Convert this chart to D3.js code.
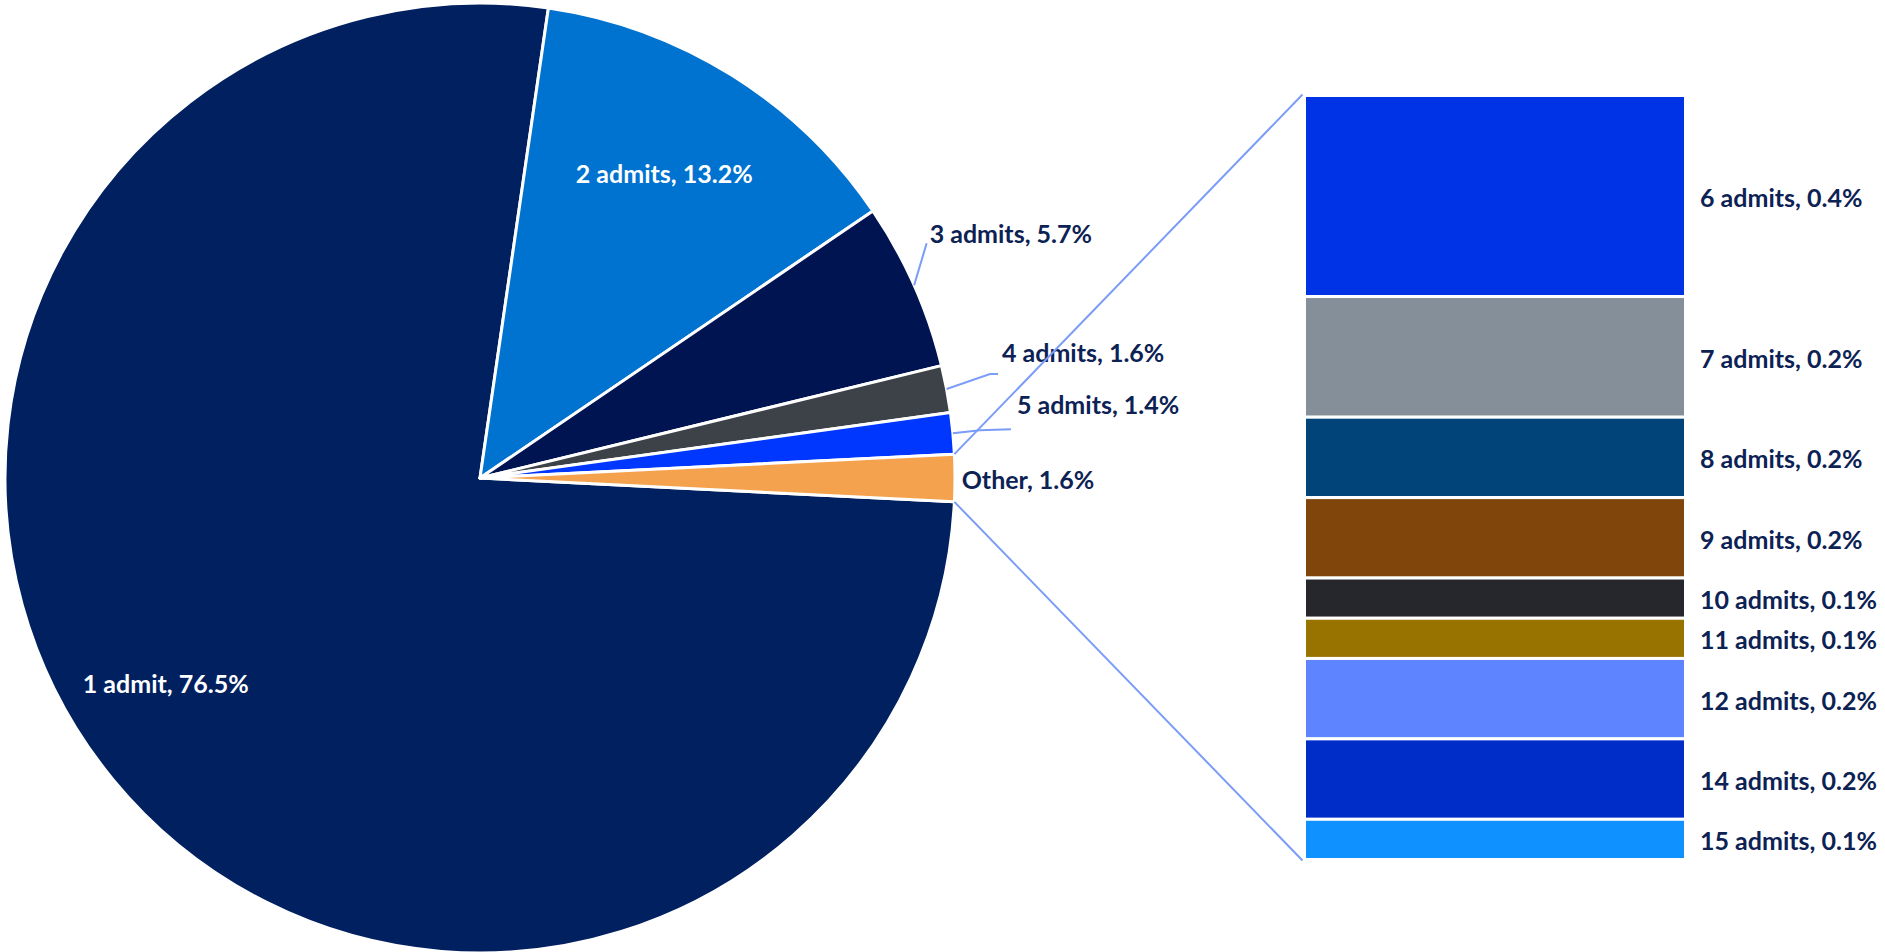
<!DOCTYPE html>
<html>
<head>
<meta charset="utf-8">
<script src="https://cdn.jsdelivr.net/npm/d3@7"></script>
<style>
  html, body { margin: 0; padding: 0; background: #ffffff; }
  svg { display: block; }
  text { font-family: Lato, "Open Sans", sans-serif; font-weight: 700; }
</style>
</head>
<body>
<svg id="chart" width="1885" height="952"></svg>
<script>
// ---- data ----
const pieLabels = ["1 admit", "2 admits", "3 admits", "4 admits", "5 admits", "Other"];
const pieValues = [76.5, 13.2, 5.7, 1.6, 1.4, 1.6];
const pieColors = ["#00205F", "#0072CF", "#001452", "#3D4249", "#0037FF", "#F5A24E"];

const subLabels = ["6 admits", "7 admits", "8 admits", "9 admits", "10 admits", "11 admits", "12 admits", "14 admits", "15 admits"];
const subPercents = [0.4, 0.2, 0.2, 0.2, 0.1, 0.1, 0.2, 0.2, 0.1];
const subSizes = [5, 3, 2, 2, 1, 1, 2, 2, 1]; // relative bar heights
const subColors = ["#0033E6", "#848F99", "#00447A", "#80450A", "#25272C", "#997300", "#5E84FF", "#002DC8", "#0F91FF"];

// ---- layout ----
const svg = d3.select("#chart");
const cx = 480, cy = 478, R = 475;
const textDark = "#0D2254";
const lineBlue = "#7B9CF7";
const fontSize = 25;
const deg = Math.PI / 180;

// Excel-style pie of pie: "Other" slice centred at 3 o'clock
const total = d3.sum(pieValues);
const beforeOther = d3.sum(pieValues.slice(0, -1));
const otherMid = (beforeOther + pieValues[pieValues.length - 1] / 2) / total * 2 * Math.PI;
const a0 = Math.PI / 2 - otherMid;

const pie = d3.pie().sort(null).value(d => d.v).startAngle(a0).endAngle(a0 + 2 * Math.PI);
const pieData = pie(pieLabels.map((l, i) => ({ label: l, v: pieValues[i], color: pieColors[i] })));
const arc = d3.arc().innerRadius(0).outerRadius(R);

const g = svg.append("g").attr("transform", `translate(${cx},${cy})`);
g.selectAll("path.slice").data(pieData).join("path")
  .attr("class", "slice")
  .attr("d", arc)
  .attr("fill", d => d.data.color)
  .attr("stroke", "#ffffff")
  .attr("stroke-width", 3)
  .attr("stroke-linejoin", "round");

const polar = (ang, r) => [r * Math.sin(ang), -r * Math.cos(ang)];

// inside labels (angle shift in degrees, radius fraction)
const insidePlace = { "1 admit": [6.3, 0.79], "2 admits": [-0.9, 0.75] };
// outside labels: offset of label's left/centre from slice edge midpoint; leader elbow relative to label anchor
const outsidePlace = {
  "3 admits": { off: [15.5, -52], leader: [[-3, 10]] },
  "4 admits": { off: [55.4, -37], leader: [[-12, 22], [-4, 22]] },
  "5 admits": { off: [64, -29], leader: [[-37, 26], [-6, 25]] },
  "Other":    { off: [6.7, 1], leader: null }
};

pieData.forEach(d => {
  const mid = (d.startAngle + d.endAngle) / 2;
  const txt = `${d.data.label}, ${d3.format(".1f")(d.data.v)}%`;
  if (insidePlace[d.data.label]) {
    const [shift, rf] = insidePlace[d.data.label];
    const [x, y] = polar(mid + shift * deg, R * rf);
    g.append("text").attr("x", x).attr("y", y)
      .attr("text-anchor", "middle").attr("dominant-baseline", "central")
      .attr("fill", "#ffffff").attr("font-size", fontSize).text(txt);
  } else {
    const p = outsidePlace[d.data.label];
    const edge = polar(mid, R);
    const lx = edge[0] + p.off[0], ly = edge[1] + p.off[1];
    if (p.leader) {
      const pts = [edge].concat(p.leader.map(q => [lx + q[0], ly + q[1]]));
      g.append("path").attr("d", d3.line()(pts))
        .attr("fill", "none").attr("stroke", lineBlue).attr("stroke-width", 2);
    }
    g.append("text").attr("x", lx).attr("y", ly)
      .attr("text-anchor", "start").attr("dominant-baseline", "central")
      .attr("fill", textDark).attr("font-size", fontSize).text(txt);
  }
});

// ---- secondary stacked bar ----
const barX0 = 1304.5, barX1 = 1685.5;
const cum = [0];
subSizes.forEach(v => cum.push(cum[cum.length - 1] + v));
const y = d3.scaleLinear().domain([0, d3.sum(subSizes)]).range([95.5, 859.5]);

const bars = svg.append("g");
bars.selectAll("rect").data(subSizes).join("rect")
  .attr("x", barX0)
  .attr("width", barX1 - barX0)
  .attr("y", (d, i) => y(cum[i]))
  .attr("height", (d, i) => y(cum[i + 1]) - y(cum[i]))
  .attr("fill", (d, i) => subColors[i])
  .attr("stroke", "#ffffff")
  .attr("stroke-width", 3);

bars.selectAll("text").data(subSizes).join("text")
  .attr("x", 1700)
  .attr("y", (d, i) => (y(cum[i]) + y(cum[i + 1])) / 2 + 1)
  .attr("dominant-baseline", "central")
  .attr("fill", textDark)
  .attr("font-size", fontSize)
  .text((d, i) => `${subLabels[i]}, ${d3.format(".1f")(subPercents[i])}%`);

// ---- connector lines from "Other" slice to the bar ----
const other = pieData[pieData.length - 1];
const pTop = polar(other.startAngle, R), pBot = polar(other.endAngle, R);
svg.append("line")
  .attr("x1", cx + pTop[0]).attr("y1", cy + pTop[1])
  .attr("x2", barX0 - 2).attr("y2", y(0) - 1)
  .attr("stroke", lineBlue).attr("stroke-width", 2);
svg.append("line")
  .attr("x1", cx + pBot[0]).attr("y1", cy + pBot[1])
  .attr("x2", barX0 - 2).attr("y2", y(d3.sum(subSizes)) + 1)
  .attr("stroke", lineBlue).attr("stroke-width", 2);
</script>
</body>
</html>
